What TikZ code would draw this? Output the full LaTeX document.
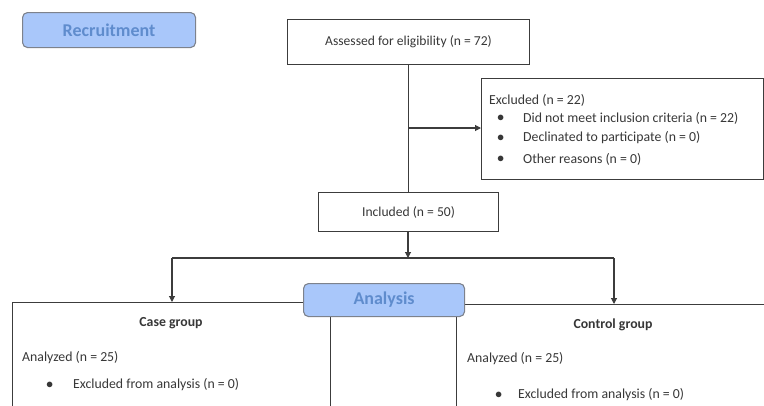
\documentclass[tikz,border=0pt]{standalone}
\usepackage{fontspec}
\setmainfont{Carlito}
\usepackage{xcolor}
\definecolor{Fill1}{RGB}{169,199,250}
\definecolor{Text1}{RGB}{95,140,205}
\definecolor{Line1}{RGB}{60,60,60}
\definecolor{Border1}{RGB}{125,130,140}
\definecolor{Ink}{RGB}{55,55,55}
\usepackage{tikz}
\usetikzlibrary{arrows.meta}
\tikzstyle{Box}=[rectangle,draw=Line1,line width=1.1pt,inner sep=0pt,
anchor=north west,font=\fontsize{13.6}{16}\selectfont,text=Ink]
\tikzstyle{Stage}=[rectangle,draw=Border1,fill=Fill1,rounded corners=5pt,
line width=1.1pt,inner sep=0pt,anchor=north west,
font=\fontsize{18}{20}\selectfont\bfseries,text=Text1]
\tikzstyle{Edge}=[draw=Line1,line width=1.1pt]
\tikzstyle{Arrow}=[Edge,-{Triangle[length=6pt,width=6pt]}]
\tikzstyle{NodeTxt}=[font=\fontsize{13.8}{16}\selectfont,text=Ink,inner sep=0pt,anchor=west]

\begin{document}
\begin{tikzpicture}[x=1pt,y=-1pt]
        \useasboundingbox (0,0) rectangle (764,405);
        \node[Stage,minimum width=173pt,minimum height=35pt](R)at(22,12){Recruitment};
        \node[Box,minimum width=242pt,minimum height=45pt](A)at(287,19){Assessed for eligibility (n = 72)};
        \node[Box,minimum width=282pt,minimum height=101pt](E)at(481,78){};
        \node[Box,minimum width=180pt,minimum height=39pt](I)at(318,192){Included (n = 50)};
        \node[Box,minimum width=318pt,minimum height=160pt](C)at(12,302){};
        \node[Box,minimum width=350pt,minimum height=160pt](K)at(456,304){};
        \node[Stage,minimum width=161pt,minimum height=33pt](Y)at(303,283){Analysis};
        % excluded
        \node[NodeTxt](e0)at(489,100){Excluded (n = 22)};
        \node[NodeTxt](b1)at(497,118){$\bullet$};
        \node[NodeTxt](e1)at(523,118){Did not meet inclusion criteria (n = 22)};
        \node[NodeTxt](b2)at(497,138){$\bullet$};
        \node[NodeTxt](e2)at(523,138){Declinated to participate (n = 0)};
        \node[NodeTxt](b3)at(497,159){$\bullet$};
        \node[NodeTxt](e3)at(523,159){Other reasons (n = 0)};
        % groups
        \node[NodeTxt,anchor=center](c0)at(171,323){\bfseries Case group};
        \node[NodeTxt](c1)at(22,358){Analyzed (n = 25)};
        \node[NodeTxt](cb)at(46,385){$\bullet$};
        \node[NodeTxt](c2)at(73,385){Excluded from analysis (n = 0)};
        \node[NodeTxt,anchor=center](k0)at(613,325){\bfseries Control group};
        \node[NodeTxt](k1)at(467,359){Analyzed (n = 25)};
        \node[NodeTxt](kb)at(495,395){$\bullet$};
        \node[NodeTxt](k2)at(518,395){Excluded from analysis (n = 0)};
        % connectors
        \coordinate(B)at(408,128);
        \coordinate(S)at(408,258);
        \coordinate(SL)at(172,258);
        \coordinate(SR)at(614,258);
        \draw[Edge](A.south)--(A.south|-I.north);
        \draw[Arrow](B)--(B-|E.west);
        \draw[Arrow](S|-I.south)--(S);
        \draw[Edge](SL)--(SR);
        \draw[Arrow](SL)--(SL|-C.north);
        \draw[Arrow](SR)--(SR|-K.north);
    \end{tikzpicture}
\end{document}
